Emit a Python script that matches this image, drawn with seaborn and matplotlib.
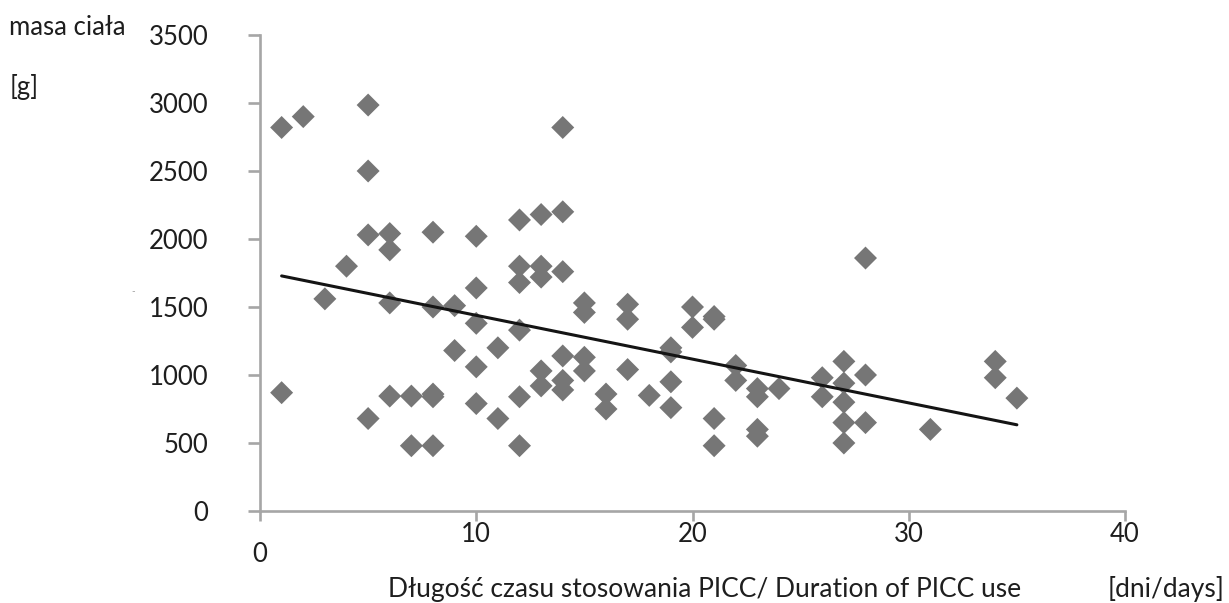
import matplotlib
matplotlib.use('Agg')
import matplotlib.pyplot as plt
import pandas as pd
import seaborn as sns

# długość stosowania PICC [dni] i masa ciała [g]
dni = [1, 1, 2, 3, 4,
       5, 5, 5, 5, 6, 6, 6, 6, 7, 7,
       8, 8, 8, 8, 8, 9, 9,
       10, 10, 10, 10, 10, 11, 11,
       12, 12, 12, 12, 12, 12, 13, 13, 13, 13, 13,
       14, 14, 14, 14, 14, 14, 15, 15, 15, 15,
       16, 16, 17, 17, 17, 18, 19, 19, 19, 19,
       20, 20, 21, 21, 21, 21, 22, 22,
       23, 23, 23, 23, 24, 26, 26,
       27, 27, 27, 27, 27, 28, 28, 28, 31, 34, 34, 35]
masa = [2820, 870, 2900, 1560, 1800,
        2985, 2500, 2030, 680, 2040, 1920, 1530, 845, 845, 480,
        2050, 1500, 860, 840, 480, 1510, 1180,
        2020, 1640, 1380, 1060, 790, 1200, 680,
        2140, 1800, 1680, 1330, 840, 480, 2180, 1800, 1720, 1030, 920,
        2820, 2200, 1760, 1140, 960, 890, 1530, 1460, 1130, 1030,
        860, 750, 1520, 1410, 1040, 850, 1200, 1170, 950, 760,
        1500, 1350, 1430, 1410, 680, 480, 1070, 960,
        900, 840, 600, 550, 900, 980, 840,
        1100, 940, 800, 650, 500, 1860, 1000, 650, 600, 1100, 980, 830]

x_ticks = [0, 10, 20, 30, 40]
x_labels = ['', '10', '20', '30', '40']
y_ticks = [0, 500, 1000, 1500, 2000, 2500, 3000, 3500]

df = pd.DataFrame({'dni': dni, 'masa': masa})

sns.set_style('ticks')
plt.rcParams['font.family'] = ['Lato', 'DejaVu Sans']

W, H = 1229, 603
FS = 18.5
fig = plt.figure(figsize=(W / 100, H / 100), dpi=100)
ax = fig.add_axes([260 / W, 1 - 511 / H, 865 / W, 476 / H])

sns.scatterplot(data=df, x='dni', y='masa', marker='D', s=137,
                color='#767676', edgecolor='none', linewidth=0, ax=ax, zorder=2)
sns.regplot(data=df, x='dni', y='masa', scatter=False, ci=None, truncate=True,
            color='#141414', line_kws={'linewidth': 2.2, 'zorder': 3}, ax=ax)

ax.set_xlim(0, 40)
ax.set_ylim(0, 3500)
ax.set_xticks(x_ticks)
ax.set_xticklabels(x_labels)
ax.set_yticks(y_ticks)
ax.set_yticklabels([str(v) for v in y_ticks])

grey = '#a6a6a6'
txt = '#1e1e1e'
sns.despine(ax=ax)
for side in ['left', 'bottom']:
    ax.spines[side].set_color(grey)
    ax.spines[side].set_linewidth(1.9)
ax.tick_params(axis='both', colors=grey, width=1.9, labelcolor=txt, labelsize=FS)
ax.tick_params(axis='y', length=9, pad=28)
ax.tick_params(axis='x', length=7, pad=1)

# "0" na osi x leży niżej niż pozostałe etykiety
ax.text(0, (511 - 554) / 476, '0', transform=ax.get_xaxis_transform(),
        ha='center', va='center', fontsize=FS, color=txt)

ax.set_ylabel('')
ax.set_xlabel('Długość czasu stosowania PICC/ Duration of PICC use',
              fontsize=19, color=txt)
ax.xaxis.label.set_va('baseline')
ax.xaxis.set_label_coords((705 - 260) / 865, (511 - 597) / 476)

fig.text(1108 / W, 1 - 597 / H, '[dni/days]', ha='left', va='baseline',
         fontsize=19, color=txt)
fig.text(9 / W, 1 - 35 / H, 'masa ciała', ha='left', va='baseline',
         fontsize=FS, color=txt)
fig.text(10 / W, 1 - 95 / H, '[g]', ha='left', va='baseline',
         fontsize=FS, color=txt)
fig.text(133 / W, 1 - 292 / H, '-', ha='center', va='center',
         fontsize=7, color='#9a9a9a')

fig.savefig('out.png', dpi=100)
